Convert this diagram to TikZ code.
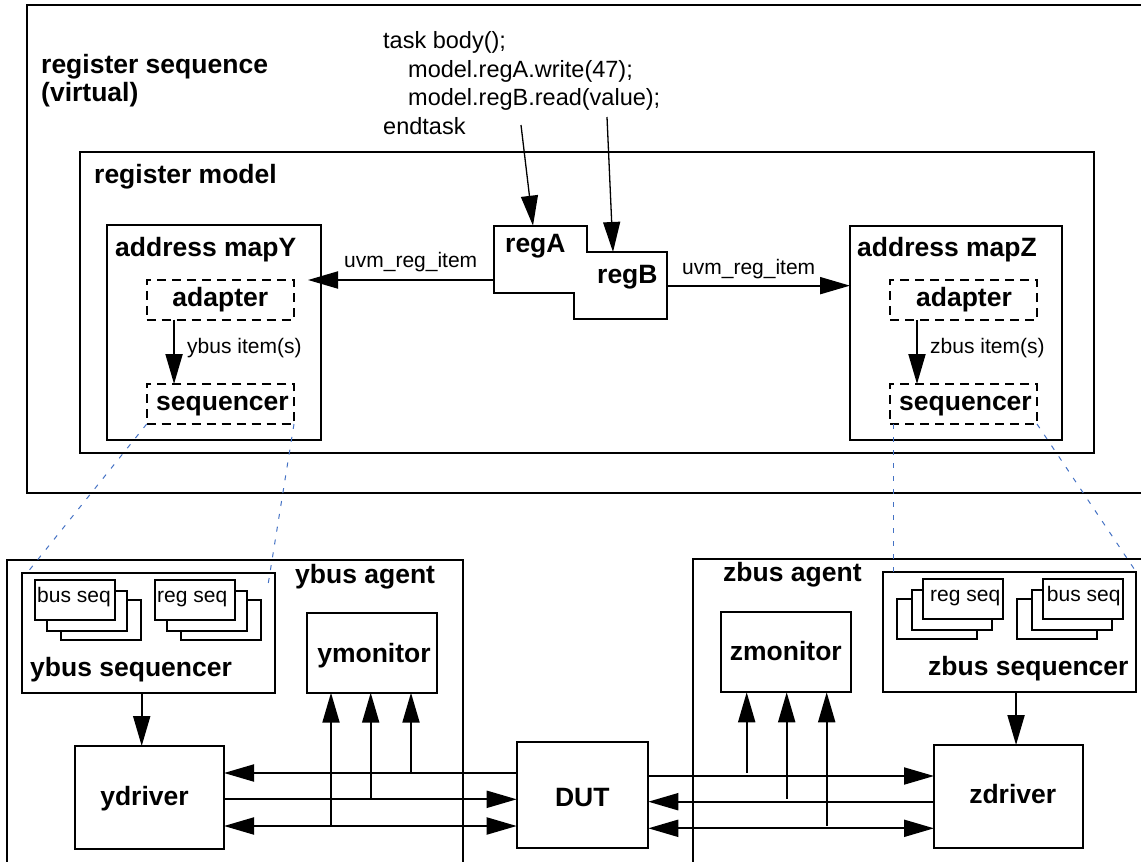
\documentclass[tikz,border=0pt]{standalone}
\usepackage{fontspec}
\setmainfont{Liberation Sans}
\usetikzlibrary{arrows.meta}
\newcommand\tbfont{\fontsize{26.5}{31}\selectfont\bfseries}
\newcommand\trfont{\fontsize{21}{25}\selectfont}
\newcommand\tcfont{\fontsize{23.5}{28}\selectfont}
\newcommand\rbox[6]{\node[#1, anchor=north west, minimum width={#5-#3}, minimum height={#6-#4}] (#2) at (#3,#4) {};}
\definecolor{dotblue}{RGB}{68,114,196}
\tikzset{
  bx/.style={draw, line width=2.2pt, inner sep=0pt, outer sep=0pt},
  nb/.style={inner sep=0pt, outer sep=0pt},
  dbx/.style={draw, line width=2pt, dash pattern=on 9pt off 6pt, inner sep=0pt, outer sep=0pt},
  sbx/.style={draw, line width=1.7pt, fill=white, inner sep=0pt, outer sep=0pt},
  ar/.style={line width=2pt, -{Triangle[length=30pt,width=17pt]}},
  dar/.style={line width=2pt, {Triangle[length=30pt,width=17pt]}-{Triangle[length=30pt,width=17pt]}},
  thinar/.style={line width=1.3pt, -{Triangle[length=30pt,width=17pt]}},
  bluedash/.style={draw=dotblue, line width=1pt, dash pattern=on 5pt off 8pt},
  bt/.style={font=\tbfont, inner sep=0pt, anchor=base west},
  bc/.style={font=\tbfont, inner sep=0pt, anchor=base},
  rt/.style={font=\trfont, inner sep=0pt, anchor=base west},
  ct/.style={font=\tcfont, inner sep=0pt, anchor=base west},
  frame/.style={line width=2.2pt},
}
\begin{document}
\begin{tikzpicture}[x=1pt, y=-1pt]
\useasboundingbox (0,0) rectangle (1141,862);

% ---------- register sequence ----------
\draw[frame] (1160,5) -- (27,5) -- (27,493) -- (1160,493);
\node[bt] (rs1) at (41,73.5) {register sequence};
\node[bt] (rs2) at (41,101) {(virtual)};

\node[ct] (c1) at (383,48.5) {task body();};
\node[ct] (c2) at (408,77) {model.regA.write(47);};
\node[ct] (c3) at (408,105.5) {model.regB.read(value);};
\node[ct] (c4) at (383,134) {endtask};
\coordinate (cA) at (521,125);
\coordinate (cB) at (607,117);

% ---------- register model ----------
\rbox{bx}{rm}{80}{152}{1094}{453}
\node[bt] (rmt) at (94,183) {register model};

% address map Y
\rbox{bx}{mapY}{107}{225}{321}{440}
\node[bt] (mapYt) at (115,256.5) {address mapY};
\rbox{dbx}{adY}{146.7}{280}{294}{319.5}
\node[bc] (adYt) at (220.3,306) {adapter};
\rbox{dbx}{sqY}{146.7}{384}{294}{424}
\node[bc] (sqYt) at (222.5,410.5) {sequencer};
\draw[ar] ([xshift=-46.3pt]adY.south) -- ([xshift=-46.3pt]sqY.north);
\node[rt] (yit) at (187,353) {ybus item(s)};

% address map Z
\rbox{bx}{mapZ}{850}{226}{1062}{440}
\node[bt] (mapZt) at (857,256.5) {address mapZ};
\rbox{dbx}{adZ}{890}{280}{1037}{320}
\node[bc] (adZt) at (964,306) {adapter};
\rbox{dbx}{sqZ}{890}{384}{1037}{424}
\node[bc] (sqZt) at (965.5,410.5) {sequencer};
\draw[ar] ([xshift=-46.5pt]adZ.south) -- ([xshift=-46.5pt]sqZ.north);
\node[rt] (zit) at (930,353) {zbus item(s)};

% registers
\rbox{nb}{regA}{494}{225.7}{586.7}{292.7}
\rbox{nb}{regB}{574}{252}{666.7}{319.3}
\draw[frame] (regA.north west) -- (regA.north east) -- (regA.east |- regB.north)
  -- (regB.north east) -- (regB.south east) -- (regB.south west)
  -- (regB.west |- regA.south) -- (regA.south west) -- cycle;
\node[bt] (regAt) at (505,252) {regA};
\node[bt] (regBt) at (597,283.3) {regB};

\draw[thinar] (cA) -- ([xshift=39pt]regA.north west);
\draw[thinar] (cB) -- ([xshift=39pt]regB.north west);

\coordinate (yin) at (308,280);
\draw[ar] (regA.west |- yin) -- (yin);
\node[rt] (uvmL) at (344,267) {uvm\_reg\_item};
\draw[ar] (regB.east) -- (regB.east -| mapZ.west);
\node[rt] (uvmR) at (682,274) {uvm\_reg\_item};

% ---------- ybus agent ----------
\draw[frame] (7,880) -- (7,560) -- (463,560) -- (463,880);
\node[bt] (yat) at (295,583.3) {ybus agent};
\rbox{bx}{yseq}{22}{573}{275}{693}
\rbox{sbx}{yb3}{61}{600}{141}{640}
\rbox{sbx}{yb2}{47}{591}{127}{631}
\rbox{sbx}{yb1}{35}{580}{115}{620}
\node[rt] (ybt) at (37,602.3) {bus seq};
\rbox{sbx}{yr3}{181}{600}{261}{640}
\rbox{sbx}{yr2}{167}{591}{247}{631}
\rbox{sbx}{yr1}{155}{580}{235}{620}
\node[rt] (yrt) at (157,602.3) {reg seq};
\node[bt] (yseqt) at (30,676) {ybus sequencer};

\rbox{bx}{ymon}{306.7}{612.7}{437.3}{692.7}
\node[bc] (ymont) at (374,662.7) {ymonitor};
\rbox{bx}{ydrv}{74.7}{746}{224}{848.7}
\node[bc] (ydrvt) at (144.5,805) {ydriver};
\draw[ar] ([xshift=-6.8pt]yseq.south) -- ([xshift=-6.8pt]yseq.south |- ydrv.north);

% ---------- DUT ----------
\rbox{bx}{dut}{516.7}{741.7}{648.3}{848.3}
\node[bc] (dutt) at (582.3,806) {DUT};

\coordinate (ty1) at (411,773);
\coordinate (ty2) at (370.7,799.3);
\coordinate (ty3) at (331,826);
\draw[ar] (dut.west |- ty1) -- (ydrv.east |- ty1);
\draw[ar] (ydrv.east |- ty2) -- (dut.west |- ty2);
\draw[dar] (ydrv.east |- ty3) -- (dut.west |- ty3);
\draw[ar] (ty1) -- (ty1 |- ymon.south);
\draw[ar] (ty2) -- (ty2 |- ymon.south);
\draw[ar] (ty3) -- (ty3 |- ymon.south);

% ---------- zbus agent ----------
\draw[frame] (693,880) -- (693,559) -- (1160,559);
\node[bt] (zat) at (723,581.7) {zbus agent};
\rbox{bx}{zseq}{882.7}{571.7}{1136}{691.7}
\rbox{sbx}{zr3}{897}{599}{977}{639}
\rbox{sbx}{zr2}{912}{590}{992}{630}
\rbox{sbx}{zr1}{923}{579}{1003}{619}
\node[rt] (zrt) at (930,601.7) {reg seq};
\rbox{sbx}{zb3}{1017}{599}{1097}{639}
\rbox{sbx}{zb2}{1032}{590}{1112}{630}
\rbox{sbx}{zb1}{1043}{579}{1123}{619}
\node[rt] (zbt) at (1046.7,601.7) {bus seq};
\node[bt] (zseqt) at (928,675) {zbus sequencer};

\rbox{bx}{zmon}{720.7}{611.7}{851}{692.3}
\node[bc] (zmont) at (785.8,660) {zmonitor};
\rbox{bx}{zdrv}{934}{745}{1083.3}{847.7}
\node[bc] (zdrvt) at (1012.7,803.3) {zdriver};
\draw[ar] ([xshift=6.7pt]zseq.south) -- ([xshift=6.7pt]zseq.south |- zdrv.north);

\coordinate (bz1) at (700,776);
\coordinate (bz2) at (700,801.7);
\coordinate (bz3) at (700,828.3);
\draw[ar] (dut.east |- bz1) -- (zdrv.west |- bz1);
\draw[ar] (zdrv.west |- bz2) -- (dut.east |- bz2);
\draw[dar] (dut.east |- bz3) -- (zdrv.west |- bz3);
\coordinate (tz1) at (746.7,772.5);
\coordinate (tz2) at (786.7,798.5);
\coordinate (tz3) at (826.7,825.5);
\draw[ar] (tz1) -- (tz1 |- zmon.south);
\draw[ar] (tz2) -- (tz2 |- zmon.south);
\draw[ar] (tz3) -- (tz3 |- zmon.south);

% ---------- blue dashed projections ----------
\draw[bluedash] (sqY.south west) -- ([xshift=5pt]yseq.north west);
\draw[bluedash] (sqY.south east) -- ([xshift=-7pt,yshift=-12pt]yseq.north east);
\draw[bluedash] ([xshift=3pt]sqZ.south west) -- ([xshift=3pt]sqZ.south west |- zseq.north);
\draw[bluedash] (sqZ.south east) -- (zseq.north east);
\end{tikzpicture}
\end{document}
